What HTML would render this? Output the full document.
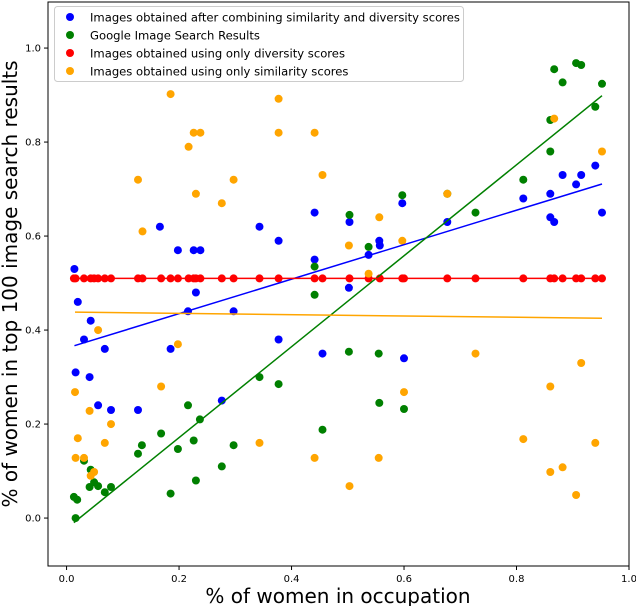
<!DOCTYPE html>
<html><head><meta charset="utf-8"><style>
html,body{margin:0;padding:0;background:#fff;}
svg{display:block;font-family:"DejaVu Sans","Liberation Sans",sans-serif;}
</style></head><body>
<svg id="chart" width="636" height="606" viewBox="0 0 636 606" xmlns="http://www.w3.org/2000/svg">
<g id="marks"></g>
<g id="axes"></g>
<g id="legend">
<rect x="54.5" y="6.5" width="409" height="75" rx="3" fill="#fff" fill-opacity="0.85" stroke="#ccc"/>
<circle cx="70" cy="17" r="4" fill="#0000ff"/><text x="90" y="21.5" font-size="11.6">Images obtained after combining similarity and diversity scores</text>
<circle cx="70" cy="35" r="4" fill="#008000"/><text x="90" y="39.5" font-size="11.6">Google Image Search Results</text>
<circle cx="70" cy="53" r="4" fill="#ff0000"/><text x="90" y="57.5" font-size="11.6">Images obtained using only diversity scores</text>
<circle cx="70" cy="71" r="4" fill="#ffa500"/><text x="90" y="75.5" font-size="11.6">Images obtained using only similarity scores</text>
</g>
<text x="338" y="603" font-size="20" text-anchor="middle">% of women in occupation</text>
<text transform="translate(17,284) rotate(-90)" font-size="20" text-anchor="middle">% of women in top 100 image search results</text>
</svg>
<script>
const blueX=[0.014,0.02,0.043,0.031,0.016,0.041,0.056,0.068,0.079,0.127,0.166,0.185,0.198,0.216,0.226,0.23,0.238,0.276,0.297,0.343,0.377,0.377,0.441,0.441,0.455,0.502,0.503,0.537,0.556,0.557,0.6,0.597,0.677,0.812,0.86,0.86,0.867,0.882,0.906,0.915,0.94,0.952];
const blueY=[0.53,0.46,0.42,0.38,0.31,0.30,0.24,0.36,0.23,0.23,0.62,0.36,0.57,0.44,0.57,0.48,0.57,0.25,0.44,0.62,0.59,0.38,0.65,0.55,0.35,0.49,0.63,0.56,0.59,0.58,0.34,0.67,0.63,0.68,0.69,0.64,0.63,0.73,0.71,0.73,0.75,0.65];
const greenX=[0.016,0.013,0.019,0.031,0.043,0.041,0.049,0.056,0.068,0.079,0.127,0.134,0.168,0.185,0.198,0.216,0.226,0.23,0.237,0.276,0.297,0.343,0.377,0.441,0.441,0.455,0.502,0.503,0.537,0.555,0.556,0.597,0.6,0.677,0.727,0.812,0.86,0.86,0.867,0.882,0.906,0.915,0.94,0.952];
const greenY=[0.0,0.045,0.039,0.122,0.103,0.066,0.076,0.068,0.055,0.066,0.137,0.155,0.18,0.052,0.147,0.24,0.165,0.08,0.21,0.11,0.155,0.30,0.285,0.535,0.475,0.188,0.354,0.645,0.577,0.35,0.245,0.687,0.232,0.69,0.65,0.72,0.78,0.847,0.955,0.927,0.968,0.964,0.875,0.924];
const redX=[0.013,0.016,0.031,0.043,0.049,0.056,0.068,0.079,0.127,0.135,0.168,0.185,0.198,0.217,0.226,0.23,0.238,0.276,0.297,0.343,0.377,0.441,0.455,0.503,0.537,0.557,0.597,0.6,0.677,0.727,0.812,0.86,0.867,0.882,0.906,0.915,0.94,0.952];
const redY=redX.map(()=>0.51);
const orangeX=[0.185,0.377,0.226,0.238,0.377,0.441,0.217,0.455,0.127,0.297,0.23,0.276,0.135,0.677,0.867,0.952,0.556,0.502,0.597,0.537,0.056,0.198,0.168,0.015,0.041,0.079,0.02,0.068,0.343,0.016,0.031,0.441,0.049,0.043,0.727,0.915,0.86,0.6,0.812,0.94,0.555,0.882,0.86,0.503,0.906];
const orangeY=[0.902,0.892,0.82,0.82,0.82,0.82,0.79,0.73,0.72,0.72,0.69,0.67,0.61,0.69,0.85,0.78,0.64,0.58,0.59,0.52,0.40,0.37,0.28,0.268,0.228,0.20,0.17,0.16,0.16,0.128,0.128,0.128,0.098,0.09,0.35,0.33,0.28,0.268,0.168,0.16,0.128,0.108,0.098,0.068,0.049];
const xTicks=[0.0,0.2,0.4,0.6,0.8,1.0];
const yTicks=[0.0,0.2,0.4,0.6,0.8,1.0];

const NS="http://www.w3.org/2000/svg";
const X0=48,X1=629,Y0=2,Y1=566;
const xmin=-0.033,xmax=1.0,ymin=-0.102,ymax=1.098;
function sx(v){return X0+(v-xmin)/(xmax-xmin)*(X1-X0);}
function sy(v){return Y1-(v-ymin)/(ymax-ymin)*(Y1-Y0);}
function mk(tag,attrs,parent){const e=document.createElementNS(NS,tag);for(const k in attrs)e.setAttribute(k,attrs[k]);parent.appendChild(e);return e;}
const marks=document.getElementById('marks'),axes=document.getElementById('axes');

function fit(xs,ys){const n=xs.length;let mx=0,my=0;for(let i=0;i<n;i++){mx+=xs[i];my+=ys[i];}mx/=n;my/=n;let sxy=0,sxx=0;for(let i=0;i<n;i++){sxy+=(xs[i]-mx)*(ys[i]-my);sxx+=(xs[i]-mx)**2;}const b=sxx?sxy/sxx:0;return [my-b*mx,b];}
const series=[["blue",blueX,blueY,"#0000ff"],["green",greenX,greenY,"#008000"],["red",redX,redY,"#ff0000"],["orange",orangeX,orangeY,"#ffa500"]];
series.forEach(([nm,xs,ys,c])=>{
  for(let i=0;i<xs.length;i++){
    const p=mk('circle',{cx:sx(xs[i]).toFixed(1),cy:sy(ys[i]).toFixed(1),r:4,fill:c},marks);
    
    
  }
});
series.forEach(([nm,xs,ys,c])=>{
  const [a,b]=fit(xs,ys);const lo=Math.min(...xs),hi=Math.max(...xs);
  const l=mk('line',{x1:sx(lo),y1:sy(a+b*lo),x2:sx(hi),y2:sy(a+b*hi),stroke:c,'stroke-width':1.5},marks);
  
  
});
const frame=mk('rect',{x:X0,y:Y0,width:X1-X0,height:Y1-Y0,fill:'none',stroke:'#000','stroke-width':1},axes);


xTicks.forEach(t=>{
  const x=sx(t);
  mk('line',{x1:x,y1:Y1,x2:x,y2:Y1+4,stroke:'#000'},axes);
  const tx=mk('text',{x:x,y:Y1+16,'font-size':10,'text-anchor':'middle'},axes);
  tx.textContent=t.toFixed(1);
  
  
});
yTicks.forEach(t=>{
  const y=sy(t);
  mk('line',{x1:X0-4,y1:y,x2:X0,y2:y,stroke:'#000'},axes);
  const tx=mk('text',{x:X0-7,y:y+3.5,'font-size':10,'text-anchor':'end'},axes);
  tx.textContent=t.toFixed(1);
  
  
});
</script>
</body></html>
